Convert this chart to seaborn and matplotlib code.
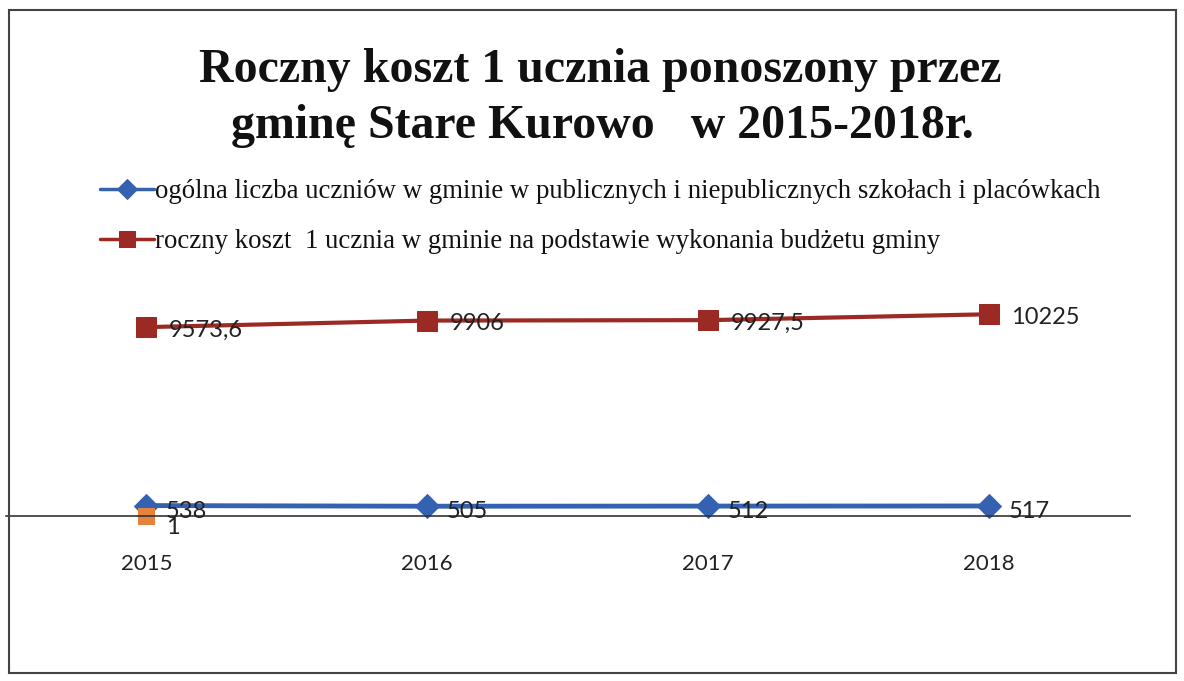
import seaborn as sns
import matplotlib.pyplot as plt
import pandas as pd
from matplotlib.patches import Rectangle

years = [2015, 2016, 2017, 2018]
uczniowie = [538, 505, 512, 517]
koszt = [9573.6, 9906, 9927.5, 10225]
koszt_labels = ["9573,6", "9906", "9927,5", "10225"]
extra_years = [2015]
extra = [1]

label_uczniowie = "ogólna liczba uczniów w gminie w publicznych i niepublicznych szkołach i placówkach"
label_koszt = "roczny koszt  1 ucznia w gminie na podstawie wykonania budżetu gminy"
title_lines = ["Roczny koszt 1 ucznia ponoszony przez", "gminę Stare Kurowo   w 2015-2018r."]

df_u = pd.DataFrame({"rok": years, "wartosc": uczniowie})
df_k = pd.DataFrame({"rok": years, "wartosc": koszt})
df_e = pd.DataFrame({"rok": extra_years, "wartosc": extra})

sns.set_style("white")
plt.rcParams['font.family'] = ['Lato', 'DejaVu Sans']

fig = plt.figure(figsize=(11.84, 6.81), dpi=100)
ax = fig.add_axes([0.005, 0.242, 0.949, 0.348])

blue = "#3462B0"
red = "#9C2A24"
orange = "#E5823C"

sns.lineplot(data=df_u, x="rok", y="wartosc", ax=ax, color=blue, lw=3.5,
             marker="D", markersize=12, markeredgecolor=blue, label=label_uczniowie)
sns.lineplot(data=df_k, x="rok", y="wartosc", ax=ax, color=red, lw=3,
             marker="s", markersize=14, markeredgecolor=red, label=label_koszt)
sns.lineplot(data=df_e, x="rok", y="wartosc", ax=ax, color=orange, lw=0,
             marker="s", markersize=11, markeredgecolor=orange, legend=False)
for l in ax.lines:
    l.set_clip_on(False)

ax.set_xlim(2014.5, 2018.5)
ax.set_ylim(0, 12000)
ax.set_xticks(years)
ax.set_xticklabels([str(y) for y in years], fontsize=16, color="#222222")
ax.set_yticks([])
ax.set_xlabel("")
ax.set_ylabel("")
ax.tick_params(axis="x", length=0, pad=27)
for s in ["top", "right", "left"]:
    ax.spines[s].set_visible(False)
ax.spines["bottom"].set_color("#333333")
ax.spines["bottom"].set_linewidth(1.2)

for x, v in zip(years, uczniowie):
    ax.annotate(str(v), (x, v), xytext=(14, -4), textcoords="offset points",
                ha="left", va="center", fontsize=17, color="#222222")
for x, v, t in zip(years, koszt, koszt_labels):
    ax.annotate(t, (x, v), xytext=(16, -2), textcoords="offset points",
                ha="left", va="center", fontsize=17, color="#222222")
for x, v in zip(extra_years, extra):
    ax.annotate(str(v), (x, v), xytext=(14, -8), textcoords="offset points",
                ha="left", va="center", fontsize=17, color="#222222")

leg = ax.legend(loc="upper left", bbox_to_anchor=(100 / 1184, 1 - 179 / 681),
                bbox_transform=fig.transFigure, frameon=False,
                prop={"family": "Liberation Serif", "size": 19.3},
                handlelength=2.0, handletextpad=0.05, labelspacing=0.95,
                borderpad=0, borderaxespad=0, markerscale=0.85)
for t in leg.get_texts():
    t.set_color("#111111")
for h in leg.legend_handles:
    h.set_linewidth(2.5)

fig.text(0.507, 1 - 70 / 681, title_lines[0], ha="center", va="center",
         fontsize=34.5, fontweight="bold", family="Liberation Serif", color="#111111")
fig.text(0.509, 1 - 126 / 681, title_lines[1], ha="center", va="center",
         fontsize=34.5, fontweight="bold", family="Liberation Serif", color="#111111")

fig.patches.append(Rectangle((9 / 1184, 1 - 673 / 681), 1167 / 1184, 663 / 681,
                             transform=fig.transFigure, fill=False,
                             edgecolor="#444444", lw=1.5))

fig.savefig("out.png", dpi=100)
